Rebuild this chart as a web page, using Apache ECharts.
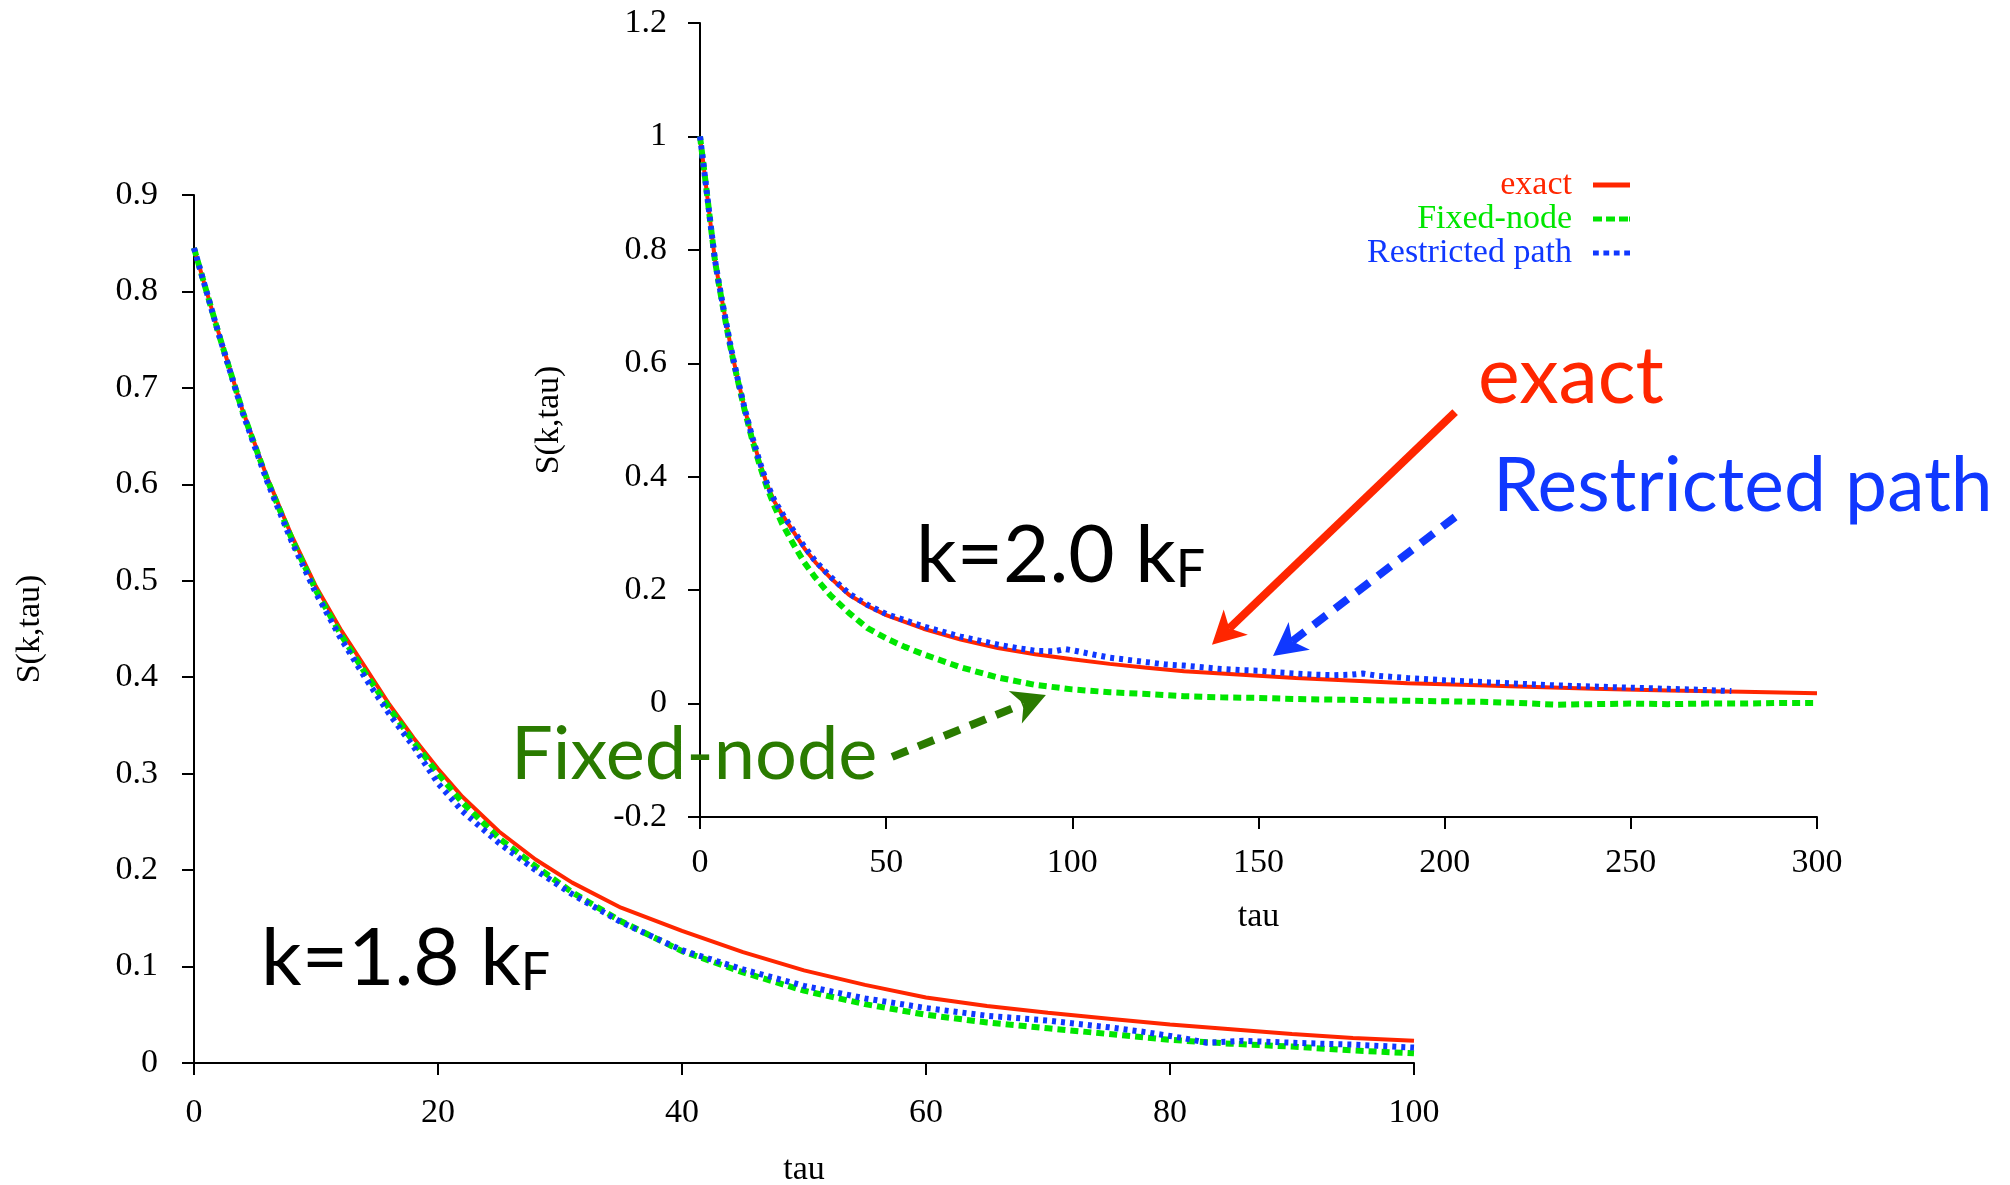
<!DOCTYPE html>
<html>
<head>
<meta charset="utf-8">
<script src="https://cdn.jsdelivr.net/npm/echarts@6/dist/echarts.min.js"></script>
<style>
  html, body { margin: 0; padding: 0; background: #fff; }
  #main { width: 2010px; height: 1185px; }
</style>
</head>
<body>
<div id="main"></div>
<script>
// ---- k = 1.8 kF : main panel -------------------------------------------
const xTicks18 = [0, 20, 40, 60, 80, 100];
const yTicks18 = [0, 0.1, 0.2, 0.3, 0.4, 0.5, 0.6, 0.7, 0.8, 0.9];

const tau18 = [0, 2, 4, 6, 8, 10, 12, 14, 16, 18, 20, 22, 25, 28, 31, 35, 40, 45, 50, 55,
               60, 65, 70, 75, 80, 85, 90, 95, 100];
const exact18 = [0.845, 0.758, 0.676, 0.607, 0.547, 0.494, 0.450, 0.411, 0.372, 0.337,
                 0.305, 0.276, 0.240, 0.211, 0.187, 0.161, 0.137, 0.115, 0.096, 0.081,
                 0.068, 0.059, 0.052, 0.046, 0.040, 0.035, 0.030, 0.026, 0.023];
const fixedNode18 = [0.845, 0.757, 0.675, 0.605, 0.544, 0.490, 0.445, 0.405, 0.368, 0.333,
                     0.300, 0.270, 0.233, 0.204, 0.177, 0.147, 0.116, 0.094, 0.075, 0.061,
                     0.050, 0.042, 0.036, 0.030, 0.024, 0.020, 0.017, 0.013, 0.010];
const tauRp18 = [0, 2, 4, 6, 8, 10, 12, 14, 16, 18, 20, 22, 25, 28, 31, 35, 40, 45, 50, 55,
                 60, 65, 70, 75, 78, 81, 83, 86, 90, 95, 100];
const restricted18 = [0.845, 0.757, 0.674, 0.603, 0.541, 0.487, 0.441, 0.400, 0.362, 0.328,
                      0.290, 0.261, 0.228, 0.200, 0.175, 0.146, 0.117, 0.097, 0.080, 0.067,
                      0.057, 0.049, 0.044, 0.037, 0.032, 0.026, 0.021, 0.023, 0.021, 0.019, 0.016];

// ---- k = 2.0 kF : inset panel ------------------------------------------
const xTicks20 = [0, 50, 100, 150, 200, 250, 300];
const yTicks20 = [-0.2, 0, 0.2, 0.4, 0.6, 0.8, 1, 1.2];

const tau20 = [0, 1, 2, 3, 4, 5, 6, 7, 8, 9, 10, 12, 14, 16, 18, 20, 22, 25, 28, 31, 35, 40,
               45, 50, 55, 60, 70, 80, 90, 100, 110, 120, 130, 140, 150, 160, 170, 180, 190, 200,
               220, 240, 260, 280, 300];
const exact20 = [1.000, 0.947, 0.892, 0.837, 0.783, 0.744, 0.708, 0.673, 0.638, 0.606, 0.576,
                 0.520, 0.470, 0.426, 0.386, 0.356, 0.334, 0.304, 0.274, 0.249, 0.222, 0.192,
                 0.172, 0.156, 0.144, 0.132, 0.113, 0.098, 0.087, 0.078,
                 0.070, 0.063, 0.057, 0.053, 0.049, 0.045, 0.042, 0.039, 0.036, 0.034,
                 0.030, 0.026, 0.023, 0.021, 0.018];
const tauFn20 = [0, 1, 2, 3, 4, 5, 6, 7, 8, 9, 10, 12, 14, 16, 18, 20, 22, 25, 28, 31, 35, 40,
                 45, 50, 55, 60, 70, 80, 90, 100, 110, 120, 130, 140, 150, 160, 170, 180, 190, 200,
                 210, 220, 230, 240, 250, 260, 270, 280, 290, 300];
const fixedNode20 = [1.000, 0.947, 0.892, 0.836, 0.782, 0.742, 0.705, 0.669, 0.634, 0.603, 0.574,
                     0.517, 0.466, 0.421, 0.381, 0.348, 0.318, 0.282, 0.249, 0.222, 0.191, 0.160,
                     0.133, 0.115, 0.100, 0.087, 0.064, 0.046, 0.033, 0.025,
                     0.020, 0.017, 0.013, 0.011, 0.010, 0.008, 0.007, 0.006, 0.005, 0.004,
                     0.003, 0.001, -0.002, -0.001, 0.000, -0.001, 0.000, 0.000, 0.001, 0.001];
const tauRp20 = [0, 1, 2, 3, 4, 5, 6, 7, 8, 9, 10, 12, 14, 16, 18, 20, 22, 25, 28, 31, 35, 40,
                 45, 50, 55, 60, 65, 70, 75, 80, 85, 90, 95, 98, 100, 103, 106, 110, 115, 120,
                 125, 130, 135, 140, 145, 150, 155, 160, 165, 170, 175, 178, 182, 190, 200,
                 210, 220, 230, 240, 250, 260, 270, 277];
const restricted20 = [1.000, 0.947, 0.892, 0.837, 0.783, 0.744, 0.708, 0.673, 0.638, 0.606, 0.576,
                      0.520, 0.471, 0.427, 0.388, 0.358, 0.336, 0.306, 0.277, 0.251, 0.224, 0.194,
                      0.174, 0.158, 0.147, 0.136, 0.127, 0.118, 0.111, 0.104, 0.098, 0.093,
                      0.092, 0.096, 0.094, 0.090, 0.086, 0.081, 0.077, 0.073,
                      0.069, 0.067, 0.064, 0.061, 0.059, 0.058, 0.055, 0.053, 0.051, 0.050,
                      0.051, 0.053, 0.049, 0.045, 0.041,
                      0.038, 0.035, 0.032, 0.030, 0.028, 0.026, 0.024, 0.022];

// ---- styling ------------------------------------------------------------
const RED = '#ff2600';
const GREEN = '#00e600';
const BLUE = '#1038ff';
const DARK_GREEN = '#2a7b00';
const SERIF = 'Liberation Serif';
const SANS = 'Lato';

// annotation arrows, given in the inset's (tau, S) coordinates
const arrowSpecs = [
  { from: [202.8, 0.514], to: [137.5, 0.1035], color: RED, dash: null },
  { from: [202.8, 0.329], to: [153.9, 0.084], color: BLUE, dash: [16, 11] },
  { from: [51.6, -0.094], to: [92.9, 0.0153], color: DARK_GREEN, dash: [17, 11] }
];

// line style of each method, plus a matching legend sample drawn as a path
const styles = {
  'exact': { color: RED, width: 4, type: 'solid',
             icon: 'path://M0,0H37V5H0Z' },
  'Fixed-node': { color: GREEN, width: 6, type: [8, 5],
                  icon: 'path://M0,0h9v5h-9zM13,0h9v5h-9zM26,0h9v5h-9zM36,0h1v5h-1z' },
  'Restricted path': { color: BLUE, width: 6, type: [4, 5],
                       icon: 'path://M0,0h5v5h-5zM9,0h5v5h-5zM18,0h5v5h-5zM27,0h5v5h-5z' }
};

function pairs(xs, ys) { return xs.map((x, i) => [x, ys[i]]); }

function valueAxis(ticks, extra) {
  return Object.assign({
    type: 'value',
    min: ticks[0],
    max: ticks[ticks.length - 1],
    interval: ticks[1] - ticks[0],
    axisLine: { show: true, onZero: false, lineStyle: { color: '#000', width: 2 } },
    axisTick: { show: true, inside: false, length: 12, lineStyle: { color: '#000', width: 2 } },
    splitLine: { show: false },
    nameLocation: 'middle',
    nameTextStyle: { color: '#000', fontFamily: SERIF, fontSize: 34 }
  }, extra);
}

function tickLabels(margin) {
  return { color: '#000', fontFamily: SERIF, fontSize: 34, margin: margin };
}

function lineSeries(name, data, axisIdx) {
  const s = styles[name];
  return {
    type: 'line',
    name: name,
    data: data,
    xAxisIndex: axisIdx,
    yAxisIndex: axisIdx,
    showSymbol: false,
    symbol: 'none',
    smooth: false,
    silent: true,
    lineStyle: { color: s.color, width: s.width, type: s.type, cap: 'butt' },
    itemStyle: { color: s.color },
    emphasis: { disabled: true }
  };
}

function legendItem(name) {
  const s = styles[name];
  return { name: name, icon: s.icon, textStyle: { color: s.color } };
}

const chart = echarts.init(document.getElementById('main'), null, { renderer: 'canvas' });

chart.setOption({
  animation: false,
  backgroundColor: '#fff',
  grid: [
    { left: 194, top: 195, width: 1220, height: 868, outerBoundsMode: 'none', containLabel: false },
    { left: 700, top: 23, width: 1117, height: 794, outerBoundsMode: 'none', containLabel: false }
  ],
  xAxis: [
    valueAxis(xTicks18, { gridIndex: 0, name: 'tau', nameGap: 90, axisLabel: tickLabels(33) }),
    valueAxis(xTicks20, { gridIndex: 1, name: 'tau', nameGap: 83, axisLabel: tickLabels(29) })
  ],
  yAxis: [
    valueAxis(yTicks18, { gridIndex: 0, name: 'S(k,tau)', nameGap: 147, axisLabel: tickLabels(36) }),
    valueAxis(yTicks20, { gridIndex: 1, name: 'S(k,tau)', nameGap: 134, axisLabel: tickLabels(33) })
  ],
  legend: {
    orient: 'vertical',
    right: 380,
    top: 168,
    align: 'right',
    padding: 0,
    itemGap: 0,
    itemWidth: 37,
    itemHeight: 5,
    symbolKeepAspect: false,
    selectedMode: false,
    itemStyle: { borderWidth: 0 },
    textStyle: { fontFamily: SERIF, fontSize: 34, lineHeight: 33, padding: [0, 16, 0, 0] },
    data: ['exact', 'Fixed-node', 'Restricted path'].map(legendItem)
  },
  series: [
    lineSeries('exact', pairs(tau18, exact18), 0),
    lineSeries('Fixed-node', pairs(tau18, fixedNode18), 0),
    lineSeries('Restricted path', pairs(tauRp18, restricted18), 0),
    lineSeries('exact', pairs(tau20, exact20), 1),
    lineSeries('Fixed-node', pairs(tauFn20, fixedNode20), 1),
    lineSeries('Restricted path', pairs(tauRp20, restricted20), 1)
  ]
});

// ---- annotations: big labels and arrows ---------------------------------
function kLabel(x, y, text) {
  return {
    type: 'text', x: x, y: y, z: 60, silent: true,
    style: {
      text: '{a|' + text + '}{b|F}',
      align: 'left', verticalAlign: 'middle',
      rich: {
        a: { fontFamily: SANS, fontSize: 80, lineHeight: 80, fill: '#000', verticalAlign: 'bottom' },
        b: { fontFamily: SANS, fontSize: 52, lineHeight: 52, fill: '#000', verticalAlign: 'bottom' }
      }
    }
  };
}

function bigText(x, y, text, color, size) {
  return {
    type: 'text', x: x, y: y, z: 60, silent: true,
    style: { text: text, fontFamily: SANS, fontSize: size, fill: color, align: 'left', verticalAlign: 'middle' }
  };
}

function arrowGraphics() {
  const out = [];
  arrowSpecs.forEach(a => {
    const p0 = chart.convertToPixel({ gridIndex: 1 }, a.from);
    const p1 = chart.convertToPixel({ gridIndex: 1 }, a.to);
    const dx = p1[0] - p0[0], dy = p1[1] - p0[1];
    const len = Math.hypot(dx, dy);
    const ux = dx / len, uy = dy / len, nx = -uy, ny = ux;
    const headLen = 33, headHalf = 17.5, notch = 24;
    const base = [p1[0] - notch * ux, p1[1] - notch * uy];
    out.push({
      type: 'line', z: 50, silent: true,
      shape: { x1: p0[0], y1: p0[1], x2: base[0], y2: base[1] },
      style: { stroke: a.color, lineWidth: 8, lineDash: a.dash, lineCap: 'butt' }
    });
    out.push({
      type: 'polygon', z: 50, silent: true,
      shape: { points: [
        p1,
        [p1[0] - headLen * ux + headHalf * nx, p1[1] - headLen * uy + headHalf * ny],
        base,
        [p1[0] - headLen * ux - headHalf * nx, p1[1] - headLen * uy - headHalf * ny]
      ] },
      style: { fill: a.color }
    });
  });
  return out;
}

chart.setOption({
  graphic: [
    bigText(1478, 378, 'exact', RED, 79),
    bigText(1493, 487, 'Restricted path', BLUE, 75),
    bigText(511, 755, 'Fixed-node', DARK_GREEN, 74),
    kLabel(916, 556, 'k=2.0 k'),
    kLabel(261, 959, 'k=1.8 k')
  ].concat(arrowGraphics())
});
</script>
</body>
</html>
